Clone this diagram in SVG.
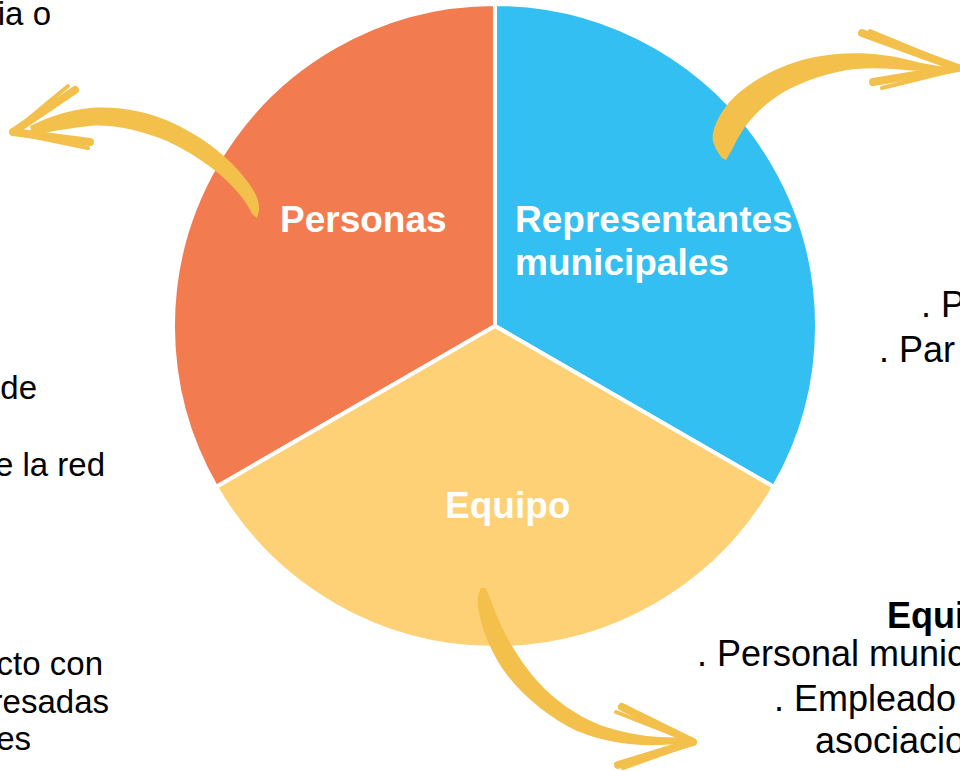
<svg xmlns="http://www.w3.org/2000/svg" width="960" height="771" viewBox="0 0 960 771">
<style>
.slice{stroke:#ffffff;stroke-width:4;stroke-linejoin:miter}
.lbl{font-family:"Liberation Sans",Arial,sans-serif;font-weight:bold;font-size:37px;fill:#ffffff}
.txt{font-family:"Liberation Sans",Arial,sans-serif;font-size:33px;fill:#000000}
.txtr{font-family:"Liberation Sans",Arial,sans-serif;font-size:36px;fill:#000000}
.brush{fill:#F2C04B}
.barb{fill:none;stroke:#F2C04B;stroke-linecap:round;stroke-linejoin:round}
</style>
<rect width="960" height="771" fill="#ffffff"/>
<g id="personas">
<path class="slice" fill="#F37B50" d="M495,326 L495,4 A322,322 0 0 0 216.1,487 Z"/>
<text class="lbl" x="280" y="232">Personas</text>
</g>
<g id="representantes">
<path class="slice" fill="#33BFF1" d="M495,326 L495,4 A322,322 0 0 1 773.9,487 Z"/>
<text class="lbl" x="515" y="232">Representantes</text>
<text class="lbl" x="515" y="275">municipales</text>
</g>
<g id="equipo">
<path class="slice" fill="#FED176" d="M495,326 L773.9,487 A322,322 0 0 1 216.1,487 Z"/>
<text class="lbl" x="445" y="518">Equipo</text>
</g>
<g id="connectors">
<g id="arrow-personas">
<path class="brush" d="M30,126 C50,116 70,110 90,108 C120,106 150,112 175,124 C200,136 222,152 238,170 C252,186 260,198 259,210 L257,218 L252,214 C248,204 240,194 228,182 C212,166 190,152 167,141 C140,130 110,124 90,126 C70,128 50,131 32,136 Z"/>
<path class="barb" stroke-width="8" d="M13,132 L75,90 M13,132 L90,142"/>
<path class="barb" stroke-width="4" d="M15,130 L68,86 M15,133 L88,148"/>
</g>
<g id="arrow-representantes">
<path class="brush" d="M722,158 C716,150 711,142 713,133 C716,118 728,100 745,88 C765,73 790,62 815,57 C845,51 880,52 913,61 C930,65 945,67 957,68 L955,72 C940,71 930,70 920,71 C900,70 880,67 855,69 C830,72 805,80 782,93 C763,105 748,120 738,138 C733,148 729,155 726,160 Z"/>
<path class="barb" stroke-width="8" d="M958,68 L862,33 M958,68 L873,82"/>
<path class="barb" stroke-width="4" d="M955,66 L870,31 M955,70 L882,88"/>
</g>
<g id="arrow-equipo">
<path class="brush" d="M481,588 C477,596 477,603 479,612 C482,630 492,655 507,675 C525,698 550,718 577,731 C605,742 630,746 660,745 C675,744 685,744 692,743 L690,738 C680,738 670,737 660,737 C640,736 620,732 600,725 C575,715 555,700 540,684 C520,662 505,636 496,614 C492,603 489,594 485,588 Z"/>
<path class="barb" stroke-width="8" d="M693,742 L622,707 M693,742 L618,765"/>
<path class="barb" stroke-width="4" d="M690,741 L616,712 M690,744 L623,768"/>
</g>
</g>
<g id="text-left">
<text class="txt" text-anchor="end" x="51" y="25">ia o</text>
<text class="txt" text-anchor="end" x="37" y="399">de</text>
<text class="txt" text-anchor="end" x="105" y="476">e la red</text>
<text class="txt" text-anchor="end" x="103" y="675">cto con</text>
<text class="txt" text-anchor="end" x="109" y="713">resadas</text>
<text class="txt" text-anchor="end" x="31" y="750">es</text>
</g>
<g id="text-right-top">
<text class="txtr" x="921" y="317">. P</text>
<text class="txtr" x="879" y="362">. Par</text>
</g>
<g id="text-right-bottom">
<text class="txtr" font-weight="bold" x="887" y="628">Equi</text>
<text class="txtr" x="697" y="666">. Personal munic</text>
<text class="txtr" x="774" y="711">. Empleado</text>
<text class="txtr" x="815" y="753">asociacio</text>
</g>
</svg>
